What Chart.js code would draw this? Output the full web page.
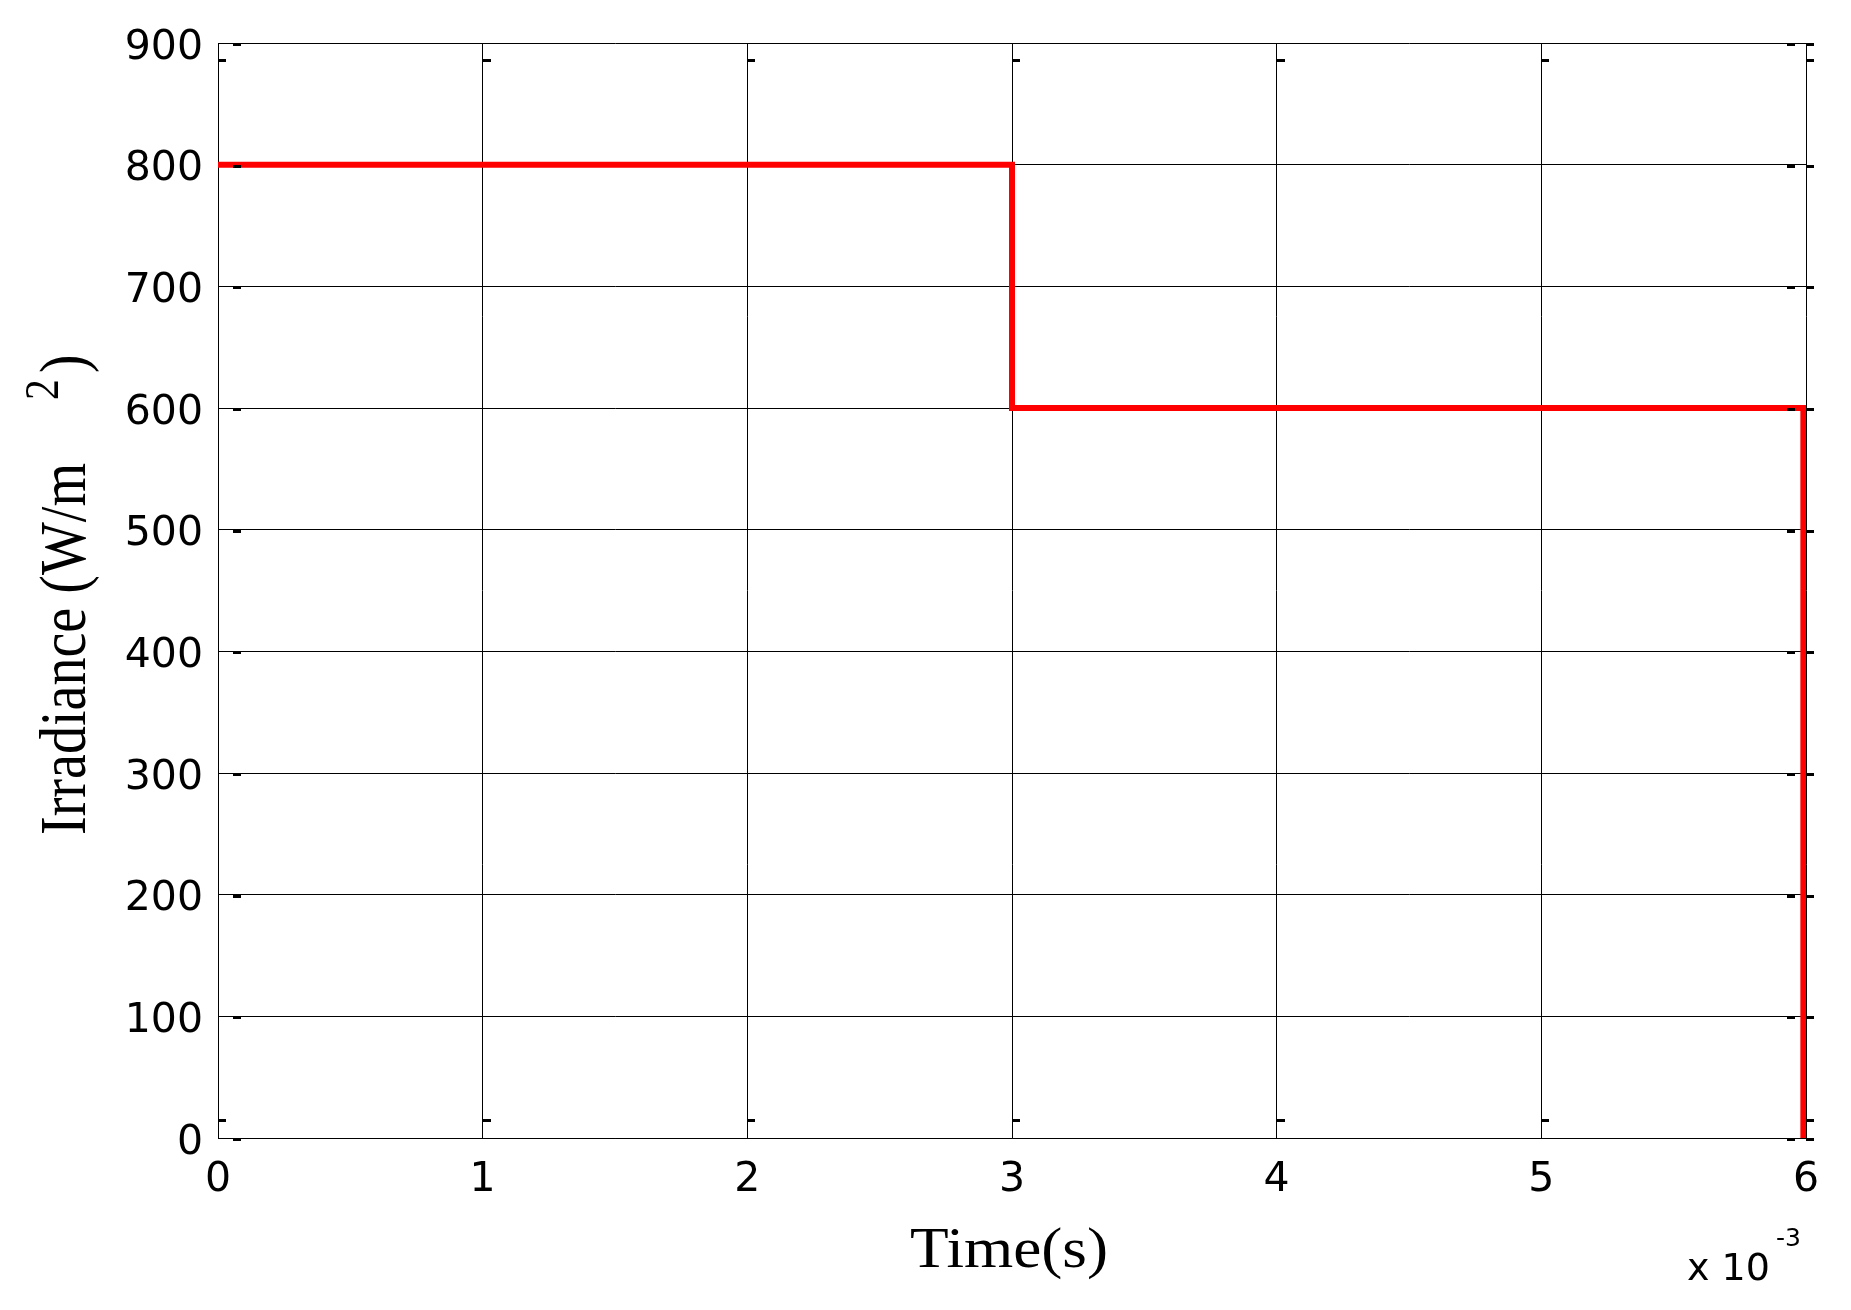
<!DOCTYPE html>
<html>
<head>
<meta charset="utf-8">
<script src="https://cdn.jsdelivr.net/npm/chart.js@4/dist/chart.umd.min.js"></script>
<style>
  html, body { margin: 0; padding: 0; background: #fff; }
  #wrap { width: 1851px; height: 1310px; }
</style>
</head>
<body>
<div id="wrap"><canvas id="irradianceChart" width="1851" height="1310"></canvas></div>
<script>
// time in ms (axis shows x 10^-3 s), irradiance in W/m^2
const timeValues = [0, 3, 3, 5.99, 5.99];
const irradianceValues = [800, 800, 600, 600, 0];
const xTicks = [0, 1, 2, 3, 4, 5, 6];
const yTicks = [0, 100, 200, 300, 400, 500, 600, 700, 800, 900];

const points = timeValues.map(function (t, i) {
  return { x: t, y: irradianceValues[i] };
});

// axis titles + the little MATLAB tick dashes
const decorations = {
  id: 'decorations',
  afterDraw(chart) {
    const ctx = chart.ctx;
    const area = chart.chartArea;
    const xs = chart.scales.x;
    const ys = chart.scales.y;

    ctx.save();
    ctx.fillStyle = '#000';
    xTicks.forEach(function (v) {
      const px = Math.round(xs.getPixelForValue(v));
      ctx.fillRect(px, area.top + 16, 8, 3);
      ctx.fillRect(px, area.bottom - 19, 8, 3);
    });
    yTicks.forEach(function (v) {
      const py = Math.round(ys.getPixelForValue(v));
      ctx.fillRect(area.left + 15, py, 8, 3);
      ctx.fillRect(area.right - 19, py, 8, 3);
      ctx.fillRect(area.right, py, 8, 3);
    });

    // x title
    ctx.font = '56px "Liberation Serif"';
    ctx.textBaseline = 'alphabetic';
    ctx.textAlign = 'left';
    const tTitle = 'Time(s)';
    const tw = ctx.measureText(tTitle).width;
    ctx.save();
    ctx.translate(910, 1267);
    ctx.scale(198 / tw, 1);
    ctx.fillText(tTitle, 0, 0);
    ctx.restore();

    // y title, rotated, with raised 2
    ctx.save();
    ctx.translate(85, 835);
    ctx.rotate(-Math.PI / 2);
    ctx.font = '65px "Liberation Serif"';
    const main = 'Irradiance (W/m';
    const mw = ctx.measureText(main).width;
    const sx = 372 / mw;
    ctx.save();
    ctx.scale(sx, 1);
    ctx.fillText(main, 0, 0);
    ctx.restore();
    ctx.font = '49px "Liberation Serif"';
    ctx.save();
    ctx.translate(435, -27);
    ctx.scale(0.85, 1);
    ctx.fillText('2', 0, 0);
    ctx.restore();
    ctx.font = '65px "Liberation Serif"';
    ctx.save();
    ctx.translate(462, 0);
    ctx.scale(0.85, 1);
    ctx.fillText(')', 0, 0);
    ctx.restore();
    ctx.restore();

    // x 10^-3 multiplier
    ctx.font = '38px "DejaVu Sans"';
    ctx.fillText('x 10', 1687, 1280);
    ctx.font = '25px "DejaVu Sans"';
    ctx.fillText('-3', 1776, 1246);
    ctx.restore();
  }
};

new Chart('irradianceChart', {
  type: 'line',
  data: {
    datasets: [{
      data: points,
      borderColor: '#ff0000',
      borderWidth: 6,
      pointRadius: 0,
      tension: 0,
      fill: false
    }]
  },
  options: {
    responsive: false,
    animation: false,
    devicePixelRatio: 1,
    layout: { padding: { top: 43, right: 45, left: 0, bottom: 0 } },
    plugins: {
      legend: { display: false },
      tooltip: { enabled: false }
    },
    scales: {
      x: {
        type: 'linear',
        min: 0,
        max: 6,
        afterFit(scale) { scale.height = 172; },
        afterBuildTicks(scale) { scale.ticks = xTicks.map(v => ({ value: v })); },
        ticks: {
          color: '#000',
          font: { family: 'DejaVu Sans', size: 41 },
          padding: 18,
          maxRotation: 0
        },
        grid: { color: '#000', lineWidth: 1, drawTicks: false },
        border: { color: '#000', width: 1 }
      },
      y: {
        min: 0,
        max: 900,
        afterFit(scale) { scale.width = 218; },
        afterBuildTicks(scale) { scale.ticks = yTicks.map(v => ({ value: v })); },
        ticks: {
          color: '#000',
          font: { family: 'DejaVu Sans', size: 41 },
          padding: 15,
          labelOffset: 5
        },
        grid: { color: '#000', lineWidth: 1, drawTicks: false },
        border: { color: '#000', width: 1 }
      }
    }
  },
  plugins: [decorations]
});
</script>
</body>
</html>
